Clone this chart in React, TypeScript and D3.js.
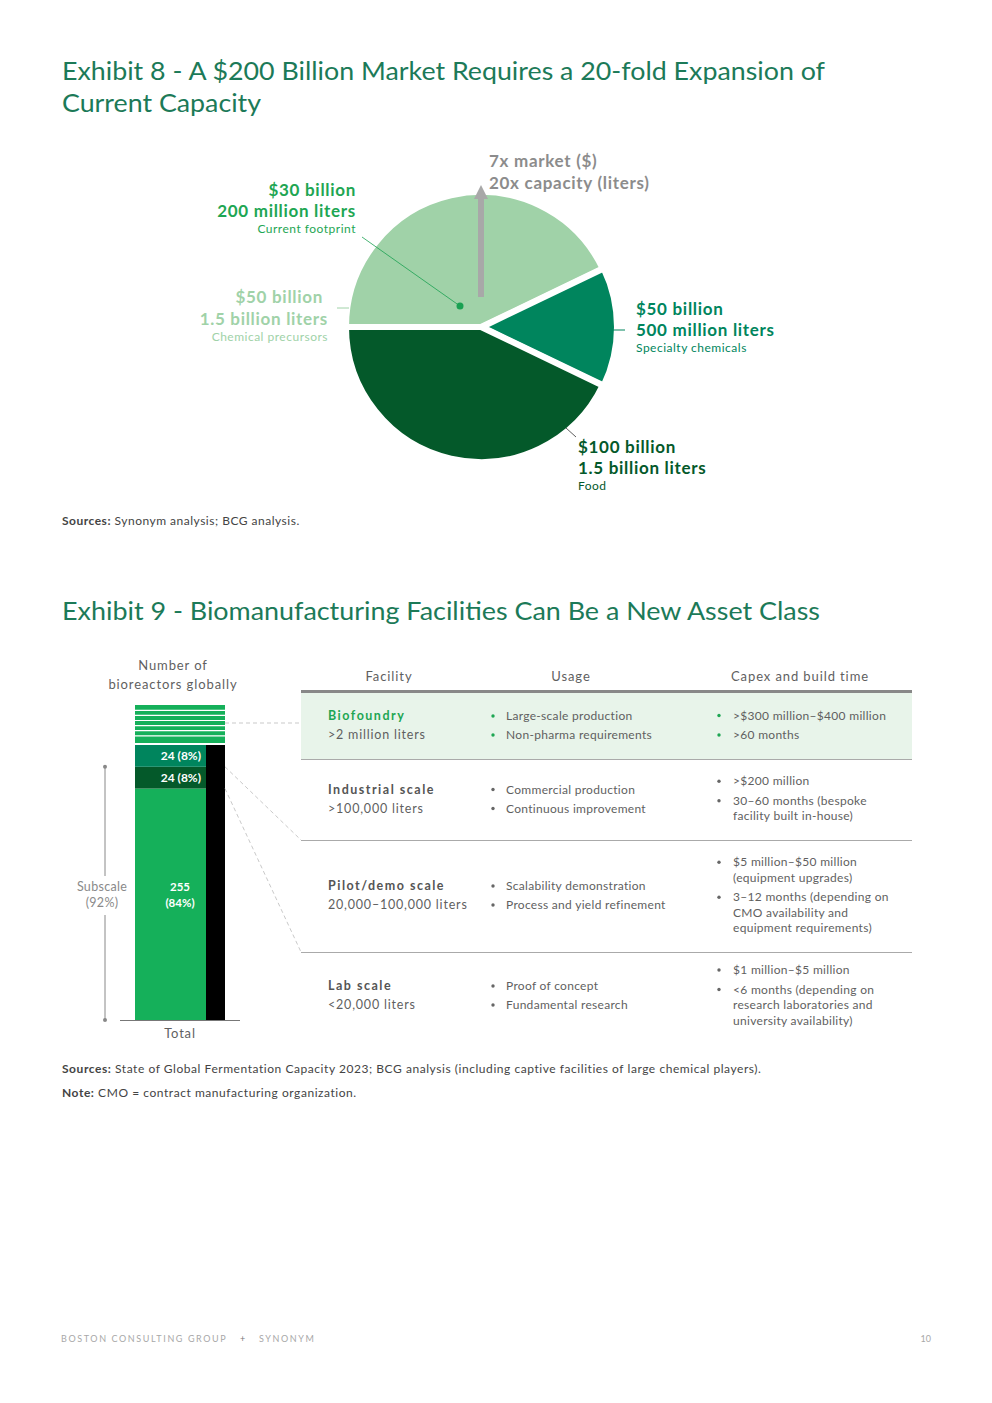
import React from "react";
import * as d3 from "d3";

// ---------- Exhibit 8 data ----------
const pieSegments = ["Chemical precursors", "Specialty chemicals", "Food"];
const pieValueLabels = ["$50 billion", "$50 billion", "$100 billion"];
const pieVolumeLabels = ["1.5 billion liters", "500 million liters", "1.5 billion liters"];
const pieLitersBn = [1.5, 0.5, 1.5];
const pieColors = ["#a0d2a8", "#00855d", "#04592a"];
const pieTextColors = ["#a0d2a8", "#00855d", "#04592a"];
const footprintLines = ["$30 billion", "200 million liters", "Current footprint"];
const growthLabels = ["7x market ($)", "20x capacity (liters)"];

// ---------- Exhibit 9 data ----------
const barSegments = ["Lab scale", "Pilot/demo scale", "Industrial scale"];
const barCounts = [255, 24, 24];
const barShares = ["84%", "8%", "8%"];
const barColors = ["#15b05a", "#04592a", "#00855d"];
const subscaleShare = "92%";

const facilities = ["Biofoundry", "Industrial scale", "Pilot/demo scale", "Lab scale"];
const facilitySizes = [">2 million liters", ">100,000 liters", "20,000\u2013100,000 liters", "<20,000 liters"];
const usages = [
  ["Large-scale production", "Non-pharma requirements"],
  ["Commercial production", "Continuous improvement"],
  ["Scalability demonstration", "Process and yield refinement"],
  ["Proof of concept", "Fundamental research"],
];
const capex = [
  [[">$300 million\u2013$400 million"], [">60 months"]],
  [[">$200 million"], ["30\u201360 months (bespoke", "facility built in-house)"]],
  [["$5 million\u2013$50 million", "(equipment upgrades)"], ["3\u201312 months (depending on", "CMO availability and", "equipment requirements)"]],
  [["$1 million\u2013$5 million"], ["<6 months (depending on", "research laboratories and", "university availability)"]],
];
const tableHeaders = ["Facility", "Usage", "Capex and build time"];

const FONT = "Lato, 'Open Sans', sans-serif";
const TITLE = "#1c7a58";
const GRAY = "#5f5f5f";

export default function App() {
  // ---- pie ----
  const cx = 481, cy = 327, R = 135;
  const pie = d3.pie<number>().sort(null).startAngle(-Math.PI / 2).endAngle(1.5 * Math.PI);
  const arcs = pie(pieLitersBn);
  const arcGen = d3.arc<d3.PieArcDatum<number>>().innerRadius(0).outerRadius(R);

  // ---- bar ----
  const total = d3.sum(barCounts);
  const y = d3.scaleLinear().domain([0, total]).range([1020, 745]);
  const barX0 = 135, barX1 = 206, barX2 = 225;
  let acc = 0;
  const stacks = barCounts.map((v, i) => {
    const s = { y0: acc, y1: acc + v, v, i };
    acc += v;
    return s;
  });

  // ---- table ----
  const rowTops = [693, 759, 840, 952];
  const rowBottoms = [759, 840, 952, 1040];
  const rowMid = (i: number) => (rowTops[i] + rowBottoms[i]) / 2;
  const lh = 15.5;

  const big = { fontSize: 17, fontWeight: 700, letterSpacing: 0.7 } as const;
  const small = { fontSize: 12, letterSpacing: 0.5 } as const;

  return (
    <svg width={992} height={1403} style={{ position: "absolute", left: 0, top: 0, background: "#fff" }} fontFamily={FONT}>
      {/* Titles */}
      <text x={62} y={80} fontSize={25} fill={TITLE} textLength={763} lengthAdjust="spacingAndGlyphs">Exhibit 8 - A $200 Billion Market Requires a 20-fold Expansion of</text>
      <text x={62} y={112} fontSize={25} fill={TITLE} textLength={199} lengthAdjust="spacingAndGlyphs">Current Capacity</text>

      {/* Pie */}
      <g>
        {arcs.map((a, i) => {
          const mid = (a.startAngle + a.endAngle) / 2;
          const off = i === 1 ? 1 : 0;
          const dx = Math.sin(mid) * off, dy = -Math.cos(mid) * off;
          return (
            <path key={i} d={arcGen(a) || ""} transform={`translate(${cx + dx},${cy + dy})`} fill={pieColors[i]} stroke="#fff" strokeWidth={6} strokeLinejoin="miter" />
          );
        })}
        {/* growth arrow */}
        <rect x={cx - 3} y={197} width={6} height={100} fill="#a8a8a8" />
        <path d={`M${cx - 7},199 L${cx + 7},199 L${cx},185 Z`} fill="#a8a8a8" />
        {/* current footprint */}
        <line x1={362} y1={237} x2={460} y2={306} stroke="#1aa152" strokeWidth={0.8} />
        <circle cx={460} cy={306} r={3.5} fill="#1aa152" />
      </g>
      {/* Pie labels */}
      <g fill="#8c8c8c">
        <text x={489} y={167} {...big}>{growthLabels[0]}</text>
        <text x={489} y={189} {...big}>{growthLabels[1]}</text>
      </g>
      <g textAnchor="end" fill="#1ea653">
        <text x={356} y={196} {...big}>{footprintLines[0]}</text>
        <text x={356} y={217} {...big}>{footprintLines[1]}</text>
        <text x={356} y={233} {...small}>{footprintLines[2]}</text>
      </g>
      <g textAnchor="end" fill={pieTextColors[0]}>
        <text x={323} y={303} {...big}>{pieValueLabels[0]}</text>
        <text x={328} y={325} {...big}>{pieVolumeLabels[0]}</text>
        <text x={328} y={341} {...small}>{pieSegments[0]}</text>
      </g>
      <line x1={337} y1={308} x2={349} y2={308} stroke={pieColors[0]} strokeWidth={1} />
      <g fill={pieTextColors[1]}>
        <text x={636} y={315} {...big}>{pieValueLabels[1]}</text>
        <text x={636} y={336} {...big}>{pieVolumeLabels[1]}</text>
        <text x={636} y={352} {...small}>{pieSegments[1]}</text>
      </g>
      <line x1={613} y1={330} x2={625} y2={330} stroke={pieColors[1]} strokeWidth={1} />
      <g fill={pieTextColors[2]}>
        <text x={578} y={453} {...big}>{pieValueLabels[2]}</text>
        <text x={578} y={474} {...big}>{pieVolumeLabels[2]}</text>
        <text x={578} y={490} {...small}>{pieSegments[2]}</text>
      </g>
      <line x1={566} y1={428} x2={576} y2={437} stroke="#333" strokeWidth={0.8} />

      <text x={62} y={525} fontSize={12} letterSpacing={0.5} fill="#444"><tspan fontWeight={700}>Sources:</tspan> Synonym analysis; BCG analysis.</text>

      {/* Exhibit 9 */}
      <text x={62} y={620} fontSize={25} fill={TITLE} textLength={758} lengthAdjust="spacingAndGlyphs">Exhibit 9 - Biomanufacturing Facilities Can Be a New Asset Class</text>

      <g textAnchor="middle" fontSize={13} letterSpacing={0.9} fill={GRAY}>
        <text x={173} y={670}>Number of</text>
        <text x={173} y={689}>bioreactors globally</text>
      </g>

      {/* hatched biofoundry block */}
      <rect x={barX0} y={705} width={barX2 - barX0} height={38} fill="#15b05a" />
      {d3.range(6).map((k) => (
        <line key={k} x1={barX0} x2={barX2} y1={710.3 + k * 5.1} y2={710.3 + k * 5.1} stroke="#fff" strokeWidth={1.2} />
      ))}
      {/* black column */}
      <rect x={barX1} y={y(total)} width={barX2 - barX1} height={y(0) - y(total)} fill="#000" />
      {stacks.map((s) => (
        <rect key={s.i} x={barX0} y={y(s.y1)} width={barX1 - barX0} height={y(s.y0) - y(s.y1)} fill={barColors[s.i]} />
      ))}
      {stacks.map((s) =>
        s.i === 0 ? (
          <g key={s.i} fill="#fff" fontSize={11.5} fontWeight={700} textAnchor="middle">
            <text x={180} y={891}>{s.v}</text>
            <text x={180} y={907}>({barShares[s.i]})</text>
          </g>
        ) : (
          <text key={s.i} x={201} y={(y(s.y0) + y(s.y1)) / 2 + 4} fill="#fff" fontSize={12} fontWeight={700} textAnchor="end">
            {s.v} ({barShares[s.i]})
          </text>
        )
      )}
      <line x1={120} x2={240} y1={1020.5} y2={1020.5} stroke="#777" strokeWidth={1} />
      <text x={180} y={1038} fontSize={13} letterSpacing={0.8} fill={GRAY} textAnchor="middle">Total</text>

      {/* subscale bracket */}
      <line x1={105} x2={105} y1={y(barCounts[0] + barCounts[1])} y2={876} stroke="#888" strokeWidth={1} />
      <line x1={105} x2={105} y1={915} y2={y(0)} stroke="#888" strokeWidth={1} />
      <circle cx={105} cy={y(barCounts[0] + barCounts[1])} r={2} fill="#888" />
      <circle cx={105} cy={y(0)} r={2} fill="#888" />
      <g textAnchor="middle" fontSize={12.5} letterSpacing={0.3} fill="#8a8a8a">
        <text x={102} y={891}>Subscale</text>
        <text x={102} y={907}>({subscaleShare})</text>
      </g>

      {/* connectors */}
      <line x1={225} y1={723} x2={301} y2={723} stroke="#bbb" strokeWidth={0.8} strokeDasharray="4,3" />
      <line x1={225} y1={y(total - barCounts[2])} x2={301} y2={840} stroke="#bbb" strokeWidth={0.8} strokeDasharray="4,3" />
      <line x1={225} y1={y(barCounts[0])} x2={301} y2={952} stroke="#bbb" strokeWidth={0.8} strokeDasharray="4,3" />

      {/* table */}
      <g fontSize={13} letterSpacing={0.9} fill={GRAY} textAnchor="middle">
        <text x={389} y={681}>{tableHeaders[0]}</text>
        <text x={571} y={681}>{tableHeaders[1]}</text>
        <text x={800} y={681}>{tableHeaders[2]}</text>
      </g>
      <rect x={301} y={693} width={611} height={66} fill="#e8f4ea" />
      <line x1={301} x2={912} y1={691.5} y2={691.5} stroke="#888" strokeWidth={3} />
      {[759, 840, 952].map((yy) => (
        <line key={yy} x1={301} x2={912} y1={yy + 0.5} y2={yy + 0.5} stroke="#aaa" strokeWidth={1} />
      ))}
      {facilities.map((f, i) => {
        const m = rowMid(i);
        const bulletColor = i === 0 ? "#1ea653" : "#666";
        const capLines: { t: string; first: boolean }[] = [];
        capex[i].forEach((b) => b.forEach((t, j) => capLines.push({ t, first: j === 0 })));
        const nGroups = capex[i].length;
        const capH = capLines.length * lh + (nGroups - 1) * 4;
        let cyy = m - capH / 2 + 11;
        const capEls: React.ReactNode[] = [];
        capLines.forEach((c, k) => {
          if (c.first && k > 0) cyy += 4;
          if (c.first) capEls.push(<circle key={"b" + k} cx={719} cy={cyy - 4} r={1.7} fill={bulletColor} />);
          capEls.push(
            <text key={"t" + k} x={733} y={cyy} fontSize={12} letterSpacing={0.3}>{c.t}</text>
          );
          cyy += lh;
        });
        return (
          <g key={f} fill={GRAY}>
            <text x={328} y={m - 6} fontSize={12.5} fontWeight={700} fill={i === 0 ? "#1ea653" : "#555"} letterSpacing={1.5}>{f}</text>
            <text x={328} y={m + 13} fontSize={12.5} letterSpacing={0.8}>{facilitySizes[i]}</text>
            {usages[i].map((u, k) => (
              <g key={u}>
                <circle cx={493} cy={m - 6 + k * 19 - 4} r={1.7} fill={bulletColor} />
                <text x={506} y={m - 6 + k * 19} fontSize={12} letterSpacing={0.3}>{u}</text>
              </g>
            ))}
            {capEls}
          </g>
        );
      })}

      <text x={62} y={1073} fontSize={12} letterSpacing={0.55} fill="#444"><tspan fontWeight={700}>Sources:</tspan> State of Global Fermentation Capacity 2023; BCG analysis (including captive facilities of large chemical players).</text>
      <text x={62} y={1097} fontSize={12} letterSpacing={0.55} fill="#444"><tspan fontWeight={700}>Note:</tspan> CMO = contract manufacturing organization.</text>

      {/* footer */}
      <g fontSize={9} fill="#a8a8a8" letterSpacing={1.6}>
        <text x={61} y={1342}>BOSTON CONSULTING GROUP</text>
        <text x={240} y={1342} fill="#777">+</text>
        <text x={259} y={1342}>SYNONYM</text>
        <text x={931} y={1342} textAnchor="end" letterSpacing={0}>10</text>
      </g>
    </svg>
  );
}
